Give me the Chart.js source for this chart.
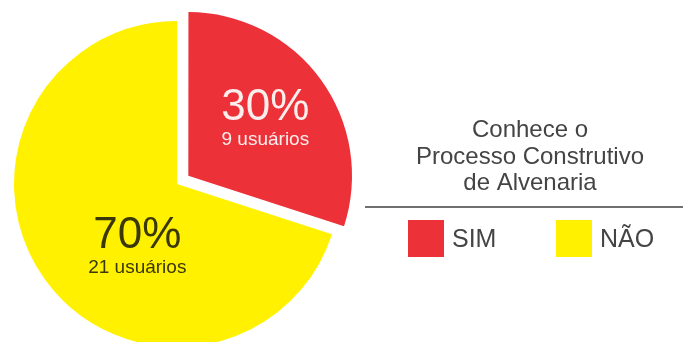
<!DOCTYPE html>
<html lang="pt">
<head>
<meta charset="utf-8">
<title>Conhece o Processo Construtivo de Alvenaria</title>
<script src="https://cdn.jsdelivr.net/npm/chart.js@4"></script>
<style>
    html, body { margin: 0; padding: 0; background: #ffffff; }
    #wrap { width: 683px; height: 342px; }
</style>
</head>
<body>
<div id="wrap"><canvas id="pieChart" width="683" height="342"></canvas></div>
<script>
// ===== DATA =====
const categories = ['SIM', 'NÃO'];
const users = [9, 21];
const sliceColors = ['#ec3138', '#fff100'];
const labelColors = ['#fdeeee', '#3b3808'];
const legendTitle = ['Conhece o', 'Processo Construtivo', 'de Alvenaria'];
const unitLabel = 'usuários';

const FONT = '"Liberation Sans", Arial, Helvetica, sans-serif';

// Chart.js translates an arc by offset / 4, so 56 -> 14px pull-out
const sliceOffsets = [56, 0];

// where each slice label sits: angle shift from slice middle (deg) and fraction of radius
const labelPlacement = [
    { shift: 0, dist: 0.584 },
    { shift: -22, dist: 0.46 }
];

// text inside the slices
const sliceLabels = {
    id: 'sliceLabels',
    afterDatasetsDraw(chart) {
        const ctx = chart.ctx;
        const meta = chart.getDatasetMeta(0);
        const data = chart.data.datasets[0].data;
        const total = data.reduce((a, b) => a + b, 0);

        meta.data.forEach((arc, i) => {
            const p = arc.getProps(['x', 'y', 'startAngle', 'endAngle', 'outerRadius'], true);
            const shiftOut = (arc.options.offset || 0) / 4;
            const mid = (p.startAngle + p.endAngle) / 2;
            const place = labelPlacement[i];
            const ox = p.x + Math.cos(mid) * shiftOut;
            const oy = p.y + Math.sin(mid) * shiftOut;
            const a = mid + place.shift * Math.PI / 180;
            const ax = ox + Math.cos(a) * p.outerRadius * place.dist;
            const ay = oy + Math.sin(a) * p.outerRadius * place.dist;

            const pct = Math.round(data[i] / total * 100) + '%';
            ctx.save();
            ctx.fillStyle = labelColors[i];
            ctx.textAlign = 'center';
            ctx.textBaseline = 'alphabetic';
            ctx.font = '44px ' + FONT;
            ctx.fillText(pct, ax, ay);
            ctx.font = '19px ' + FONT;
            ctx.fillText(data[i] + ' ' + unitLabel, ax, ay + 25);
            ctx.restore();
        });
    }
};

// legend block on the right: title, rule and colour keys
const sideLegend = {
    id: 'sideLegend',
    afterDraw(chart) {
        const ctx = chart.ctx;
        ctx.save();
        ctx.fillStyle = '#444444';
        ctx.textAlign = 'center';
        ctx.textBaseline = 'alphabetic';
        ctx.font = '24px ' + FONT;
        legendTitle.forEach((line, i) => {
            ctx.fillText(line, 530, 137 + i * 26.5);
        });

        ctx.strokeStyle = '#707070';
        ctx.lineWidth = 2;
        ctx.beginPath();
        ctx.moveTo(365, 207);
        ctx.lineTo(683, 207);
        ctx.stroke();

        const keyX = [408, 556];
        ctx.textAlign = 'left';
        ctx.font = '25px ' + FONT;
        chart.data.labels.forEach((label, i) => {
            ctx.fillStyle = chart.data.datasets[0].backgroundColor[i];
            ctx.fillRect(keyX[i], 220, 36, 37);
            ctx.fillStyle = '#444444';
            ctx.fillText(label, keyX[i] + 44, 247);
        });
        ctx.restore();
    }
};

new Chart(document.getElementById('pieChart'), {
    type: 'pie',
    data: {
        labels: categories,
        datasets: [{
            data: users,
            backgroundColor: sliceColors,
            borderWidth: 0,
            offset: sliceOffsets,
            hoverOffset: 0,
            clip: false
        }]
    },
    options: {
        responsive: false,
        animation: false,
        events: [],
        radius: 163,
        layout: {
            padding: { left: 0, right: 329, top: 26, bottom: 0 }
        },
        plugins: {
            legend: { display: false },
            tooltip: { enabled: false }
        }
    },
    plugins: [sliceLabels, sideLegend]
});
</script>
</body>
</html>
